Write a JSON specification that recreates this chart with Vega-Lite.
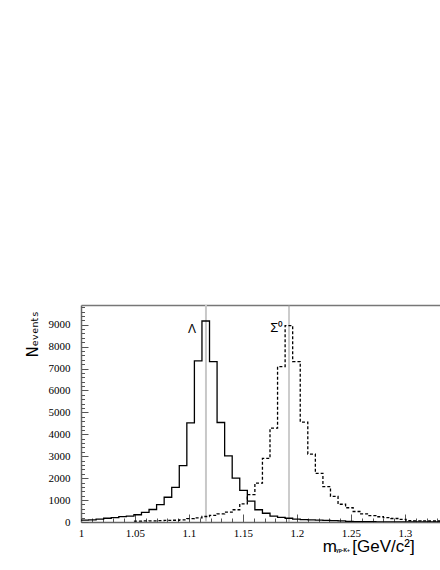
{
  "$schema": "https://vega.github.io/schema/vega-lite/v6.json",
  "autosize": {"type": "none"},
  "padding": {"left": 81, "top": 305, "right": 0, "bottom": 48},
  "width": 359,
  "height": 217,
  "background": "white",
  "view": {"stroke": null},
  "config": {
    "font": "Liberation Sans",
    "axis": {"labelFont": "Liberation Serif", "labelFontSize": 11, "labelColor": "#000", "domainColor": "#666", "domainWidth": 1.5, "tickColor": "#555", "tickWidth": 1, "grid": false}
  },
  "datasets": {
    "hist": [
      {"m": 1, "n": 90, "s": "Λ"}, {"m": 1.007, "n": 100, "s": "Λ"}, {"m": 1.014, "n": 135, "s": "Λ"}, {"m": 1.021, "n": 170, "s": "Λ"},
      {"m": 1.028, "n": 200, "s": "Λ"}, {"m": 1.035, "n": 245, "s": "Λ"}, {"m": 1.042, "n": 265, "s": "Λ"}, {"m": 1.049, "n": 330, "s": "Λ"},
      {"m": 1.056, "n": 440, "s": "Λ"}, {"m": 1.063, "n": 570, "s": "Λ"}, {"m": 1.07, "n": 790, "s": "Λ"}, {"m": 1.077, "n": 1130, "s": "Λ"},
      {"m": 1.084, "n": 1580, "s": "Λ"}, {"m": 1.091, "n": 2570, "s": "Λ"}, {"m": 1.098, "n": 4520, "s": "Λ"}, {"m": 1.105, "n": 7350, "s": "Λ"},
      {"m": 1.112, "n": 9170, "s": "Λ"}, {"m": 1.119, "n": 7320, "s": "Λ"}, {"m": 1.126, "n": 4540, "s": "Λ"}, {"m": 1.133, "n": 3020, "s": "Λ"},
      {"m": 1.14, "n": 2000, "s": "Λ"}, {"m": 1.147, "n": 1440, "s": "Λ"}, {"m": 1.154, "n": 950, "s": "Λ"}, {"m": 1.161, "n": 560, "s": "Λ"},
      {"m": 1.168, "n": 400, "s": "Λ"}, {"m": 1.175, "n": 270, "s": "Λ"}, {"m": 1.182, "n": 210, "s": "Λ"}, {"m": 1.189, "n": 170, "s": "Λ"},
      {"m": 1.196, "n": 130, "s": "Λ"}, {"m": 1.203, "n": 110, "s": "Λ"}, {"m": 1.21, "n": 95, "s": "Λ"}, {"m": 1.217, "n": 85, "s": "Λ"},
      {"m": 1.224, "n": 75, "s": "Λ"}, {"m": 1.231, "n": 65, "s": "Λ"}, {"m": 1.238, "n": 55, "s": "Λ"}, {"m": 1.245, "n": 25, "s": "Λ"},
      {"m": 1.252, "n": 20, "s": "Λ"}, {"m": 1.259, "n": 15, "s": "Λ"}, {"m": 1.266, "n": 12, "s": "Λ"}, {"m": 1.273, "n": 10, "s": "Λ"},
      {"m": 1.28, "n": 8, "s": "Λ"}, {"m": 1.287, "n": 6, "s": "Λ"}, {"m": 1.294, "n": 5, "s": "Λ"}, {"m": 1.301, "n": 4, "s": "Λ"},
      {"m": 1.308, "n": 3, "s": "Λ"}, {"m": 1.315, "n": 2, "s": "Λ"}, {"m": 1.322, "n": 2, "s": "Λ"}, {"m": 1.329, "n": 1, "s": "Λ"},
      {"m": 1.336, "n": 1, "s": "Λ"}, {"m": 1.343, "n": 1, "s": "Λ"},
      {"m": 1.049, "n": 40, "s": "Σ⁰"}, {"m": 1.056, "n": 50, "s": "Σ⁰"}, {"m": 1.063, "n": 55, "s": "Σ⁰"}, {"m": 1.07, "n": 60, "s": "Σ⁰"},
      {"m": 1.077, "n": 70, "s": "Σ⁰"}, {"m": 1.084, "n": 80, "s": "Σ⁰"}, {"m": 1.091, "n": 100, "s": "Σ⁰"}, {"m": 1.098, "n": 150, "s": "Σ⁰"},
      {"m": 1.105, "n": 190, "s": "Σ⁰"}, {"m": 1.112, "n": 250, "s": "Σ⁰"}, {"m": 1.119, "n": 300, "s": "Σ⁰"}, {"m": 1.126, "n": 370, "s": "Σ⁰"},
      {"m": 1.133, "n": 450, "s": "Σ⁰"}, {"m": 1.14, "n": 560, "s": "Σ⁰"}, {"m": 1.147, "n": 830, "s": "Σ⁰"}, {"m": 1.154, "n": 1250, "s": "Σ⁰"},
      {"m": 1.161, "n": 1770, "s": "Σ⁰"}, {"m": 1.168, "n": 2900, "s": "Σ⁰"}, {"m": 1.175, "n": 4280, "s": "Σ⁰"}, {"m": 1.182, "n": 7090, "s": "Σ⁰"},
      {"m": 1.189, "n": 8960, "s": "Σ⁰"}, {"m": 1.196, "n": 7320, "s": "Σ⁰"}, {"m": 1.203, "n": 4560, "s": "Σ⁰"}, {"m": 1.21, "n": 3100, "s": "Σ⁰"},
      {"m": 1.217, "n": 2220, "s": "Σ⁰"}, {"m": 1.224, "n": 1610, "s": "Σ⁰"}, {"m": 1.231, "n": 1170, "s": "Σ⁰"}, {"m": 1.238, "n": 810, "s": "Σ⁰"},
      {"m": 1.245, "n": 650, "s": "Σ⁰"}, {"m": 1.252, "n": 480, "s": "Σ⁰"}, {"m": 1.259, "n": 370, "s": "Σ⁰"}, {"m": 1.266, "n": 290, "s": "Σ⁰"},
      {"m": 1.273, "n": 240, "s": "Σ⁰"}, {"m": 1.28, "n": 200, "s": "Σ⁰"}, {"m": 1.287, "n": 160, "s": "Σ⁰"}, {"m": 1.294, "n": 120, "s": "Σ⁰"},
      {"m": 1.301, "n": 60, "s": "Σ⁰"}, {"m": 1.308, "n": 55, "s": "Σ⁰"}, {"m": 1.315, "n": 50, "s": "Σ⁰"}, {"m": 1.322, "n": 45, "s": "Σ⁰"},
      {"m": 1.329, "n": 45, "s": "Σ⁰"}, {"m": 1.336, "n": 40, "s": "Σ⁰"}, {"m": 1.343, "n": 40, "s": "Σ⁰"}
    ]
  },
  "layer": [
    {
      "data": {"values": [{"m": 1.1157}]},
      "mark": {"type": "rule", "color": "#c8c8c8", "strokeWidth": 2},
      "encoding": {
        "x": {"field": "m", "type": "quantitative", "scale": {"domain": [1, 1.33241], "nice": false, "zero": false}, "axis": null}
      }
    },
    {
      "data": {"values": [{"m": 1.1926}]},
      "mark": {"type": "rule", "color": "#999999", "strokeWidth": 1},
      "encoding": {
        "x": {"field": "m", "type": "quantitative", "axis": {"orient": "top", "labels": false, "ticks": false, "title": null, "domainColor": "#777", "domainWidth": 1.5}}
      }
    },
    {
      "data": {"name": "hist"},
      "mark": {"type": "line", "interpolate": "step-after", "color": "#000", "strokeWidth": 1.3, "clip": true},
      "encoding": {
        "x": {"field": "m", "type": "quantitative",
          "axis": {
            "orient": "bottom",
            "values": [1, 1.05, 1.1, 1.15, 1.2, 1.25, 1.3],
            "format": "~g",
            "tickSize": -8,
            "labelPadding": 13,
            "labelFlush": false,
            "labelOverlap": false,
            "labelFont": "Liberation Serif",
            "labelFontSize": 11,
            "labelColor": "#000",
            "title": null
          }
        },
        "y": {"field": "n", "type": "quantitative", "scale": {"domain": [0, 9900], "nice": false},
          "axis": {
            "orient": "left",
            "values": [0, 1000, 2000, 3000, 4000, 5000, 6000, 7000, 8000, 9000],
            "format": "d",
            "tickSize": -7,
            "labelPadding": 18,
            "labelOverlap": false,
            "labelFont": "Liberation Serif",
            "labelFontSize": 11,
            "labelColor": "#000",
            "title": "Nₑᵥₑₙₜₛ",
            "titleFont": "DejaVu Sans",
            "titleFontSize": 15,
            "titleFontWeight": "normal",
            "titleColor": "#000",
            "titleAngle": 270,
            "titleAlign": "left",
            "titleBaseline": "alphabetic",
            "titleX": -44,
            "titleY": 52
          }
        },
        "strokeDash": {"field": "s", "type": "nominal", "scale": {"domain": ["Λ", "Σ⁰"], "range": [[1, 0], [3, 2]]}, "legend": null}
      }
    },
    {
      "data": {"values": [{"m": 1.1028, "n": 8610, "t": "Λ"}]},
      "mark": {"type": "text", "font": "Liberation Sans", "fontSize": 12, "align": "center", "baseline": "alphabetic", "color": "#000"},
      "encoding": {
        "x": {"field": "m", "type": "quantitative",
          "axis": {"orient": "bottom", "values": [1.01, 1.02, 1.03, 1.04, 1.06, 1.07, 1.08, 1.09, 1.11, 1.12, 1.13, 1.14, 1.16, 1.17, 1.18, 1.19, 1.21, 1.22, 1.23, 1.24, 1.26, 1.27, 1.28, 1.29, 1.31, 1.32, 1.33], "labels": false, "domain": false, "tickSize": -4, "title": null, "offset": 0}},
        "y": {"field": "n", "type": "quantitative",
          "axis": {"orient": "left", "values": [200, 400, 600, 800, 1200, 1400, 1600, 1800, 2200, 2400, 2600, 2800, 3200, 3400, 3600, 3800, 4200, 4400, 4600, 4800, 5200, 5400, 5600, 5800, 6200, 6400, 6600, 6800, 7200, 7400, 7600, 7800, 8200, 8400, 8600, 8800, 9200, 9400, 9600, 9800], "labels": false, "domain": false, "tickSize": -3.5, "title": null, "offset": 0}},
        "text": {"field": "t"}
      }
    },
    {
      "data": {"values": [{"m": 1.1812, "n": 8682, "t": "Σ⁰"}]},
      "mark": {"type": "text", "font": "Liberation Sans", "fontSize": 13, "align": "center", "baseline": "alphabetic", "color": "#000"},
      "encoding": {"x": {"field": "m", "type": "quantitative", "axis": null}, "y": {"field": "n", "type": "quantitative", "axis": null}, "text": {"field": "t"}}
    },
    {
      "data": {"values": [{"m": 1.2238, "n": -1369, "t": "m"}, {"m": 1.2512, "n": -1369, "t": "[GeV/c²]"}]},
      "mark": {"type": "text", "font": "Liberation Sans", "fontSize": 17, "align": "left", "baseline": "alphabetic", "color": "#000"},
      "encoding": {"x": {"field": "m", "type": "quantitative", "axis": null}, "y": {"field": "n", "type": "quantitative", "axis": null}, "text": {"field": "t"}}
    },
    {
      "data": {"values": [{"m": 1.2361, "n": -1369, "t": "γp-K+"}]},
      "mark": {"type": "text", "font": "Liberation Sans", "fontSize": 5, "fontWeight": "bold", "align": "left", "baseline": "alphabetic", "color": "#000"},
      "encoding": {"x": {"field": "m", "type": "quantitative", "axis": null}, "y": {"field": "n", "type": "quantitative", "axis": null}, "text": {"field": "t"}}
    }
  ],
  "resolve": {"axis": {"x": "independent", "y": "independent"}}
}
